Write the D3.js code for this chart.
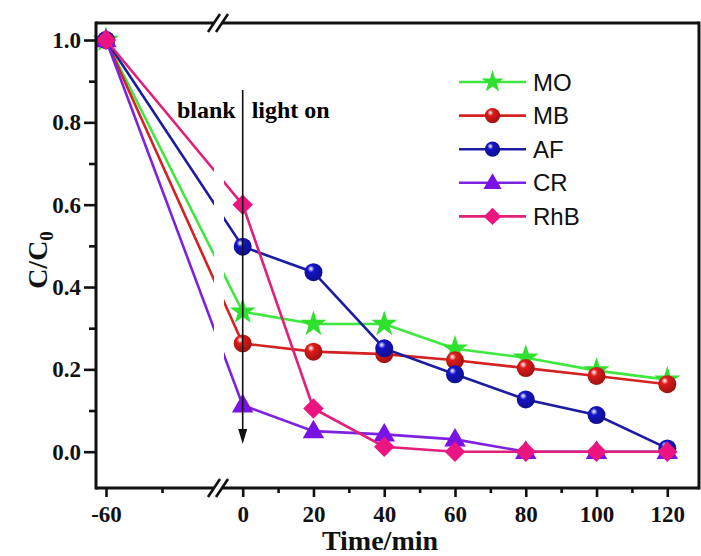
<!DOCTYPE html>
<html>
<head>
<meta charset="utf-8">
<script src="https://cdn.jsdelivr.net/npm/d3@7"></script>
<style>
  body { margin: 0; background: #fff; }
  svg { display: block; }
</style>
</head>
<body>
<div id="chart-area"></div>
<script>
// data
const times = [-60, 0, 20, 40, 60, 80, 100, 120];
const seriesNames = ["MO", "MB", "AF", "CR", "RhB"];
const moValues  = [1.0, 0.34, 0.31, 0.31, 0.25, 0.228, 0.197, 0.175];
const mbValues  = [1.0, 0.263, 0.243, 0.237, 0.222, 0.203, 0.184, 0.164];
const afValues  = [1.0, 0.498, 0.436, 0.251, 0.188, 0.127, 0.089, 0.008];
const crValues  = [1.0, 0.113, 0.05, 0.042, 0.03, 0.0, 0.0, 0.0];
const rhbValues = [1.0, 0.6, 0.105, 0.012, 0.0, 0.0, 0.0, 0.0];
const yTicks = [0.0, 0.2, 0.4, 0.6, 0.8, 1.0];
const yMinor = [0.1, 0.3, 0.5, 0.7, 0.9];
const xTicksRight = [0, 20, 40, 60, 80, 100, 120];
const xMinorRight = [10, 30, 50, 70, 90, 110];
const xTicksLeft = [-60];
const xMinorLeft = [-50];

const margin = { top: 23, right: 2, bottom: 68, left: 96 };
const width = 701 - margin.left - margin.right;
const height = 556 - margin.top - margin.bottom;

const serif = "'Times New Roman', 'Liberation Serif', serif";
const sans = "Arial, 'Liberation Sans', sans-serif";

const styles = {
  MO:  { color: "#2fe02f", line: "#3fe83f", shape: "star" },
  MB:  { color: "#e01a1a", line: "#d42222", shape: "ball" },
  AF:  { color: "#1414c8", line: "#1c1ca0", shape: "ball" },
  CR:  { color: "#7a12e6", line: "#7d22e0", shape: "triangle" },
  RhB: { color: "#ec1480", line: "#e0207a", shape: "diamond" }
};

const valuesByName = { MO: moValues, MB: mbValues, AF: afValues, CR: crValues, RhB: rhbValues };

const svg = d3.select("#chart-area")
  .append("svg")
  .attr("width", width + margin.left + margin.right)
  .attr("height", height + margin.top + margin.bottom);

const defs = svg.append("defs");

const g = svg.append("g")
  .attr("transform", `translate(${margin.left}, ${margin.top})`);

// broken x axis: two scales
const xLeft = d3.scaleLinear().domain([-60, -50]).range([10, 66]);
const xRight = d3.scaleLinear().domain([0, 120]).range([146.7, 571.3]);
const xPos = t => t < -30 ? xLeft(t) : xRight(t);
const breakX = 122;

const y = d3.scaleLinear().domain([0, 1]).range([428.7, 17]);

// clip out a gap at the break
const clip = defs.append("clipPath").attr("id", "gapclip");
clip.append("rect").attr("x", -20).attr("y", -20).attr("width", breakX - 4 + 20).attr("height", height + 40);
clip.append("rect").attr("x", breakX + 6).attr("y", -20).attr("width", width - breakX).attr("height", height + 40);

// gradients for ball markers
["MB", "AF"].forEach(name => {
  const grad = defs.append("radialGradient")
    .attr("id", "grad" + name)
    .attr("cx", "40%").attr("cy", "35%").attr("r", "65%")
    .attr("fx", "35%").attr("fy", "30%");
  grad.append("stop").attr("offset", "0%").attr("stop-color", "#ffffff");
  grad.append("stop").attr("offset", "30%").attr("stop-color", styles[name].color);
  grad.append("stop").attr("offset", "100%").attr("stop-color", d3.color(styles[name].color).darker(1));
});

function drawMarker(sel, name, k) {
  const s = styles[name];
  if (s.shape === "ball") {
    sel.append("circle").attr("r", 9 * k)
      .attr("fill", `url(#grad${name})`);
  } else if (s.shape === "star") {
    sel.append("path").attr("d", d3.symbol(d3.symbolStar, 210 * k * k)())
      .attr("fill", s.color);
  } else if (s.shape === "triangle") {
    sel.append("path").attr("d", d3.symbol(d3.symbolTriangle, 200 * k * k)())
      .attr("transform", "translate(0,1)")
      .attr("fill", s.color);
  } else {
    sel.append("path").attr("d", d3.symbol(d3.symbolSquare, 210 * k * k)())
      .attr("transform", "rotate(45)")
      .attr("fill", s.color);
  }
}

// series
const line = d3.line()
  .x(d => xPos(d.t))
  .y(d => y(d.v));

seriesNames.forEach(name => {
  const data = times.map((t, i) => ({ t: t, v: valuesByName[name][i] }));
  g.append("path")
    .datum(data)
    .attr("clip-path", "url(#gapclip)")
    .attr("fill", "none")
    .attr("stroke", styles[name].line)
    .attr("stroke-width", 2.6)
    .attr("d", line);
  g.selectAll(".m-" + name)
    .data(data)
    .enter()
    .append("g")
    .attr("class", "m-" + name)
    .attr("transform", d => `translate(${xPos(d.t)}, ${y(d.v)})`)
    .each(function() { drawMarker(d3.select(this), name, 1); });
});

// arrow at t = 0
g.append("line")
  .attr("x1", xRight(0)).attr("x2", xRight(0))
  .attr("y1", 67).attr("y2", 410)
  .attr("stroke", "#111")
  .attr("stroke-width", 1.6);
g.append("path")
  .attr("d", `M${xRight(0) - 4.5},${406} L${xRight(0) + 4.5},${406} L${xRight(0)},${421} Z`)
  .attr("fill", "#111");

g.append("text")
  .attr("x", xRight(0) - 7)
  .attr("y", 95)
  .attr("text-anchor", "end")
  .attr("font-family", serif)
  .attr("font-weight", "bold")
  .attr("font-size", "24px")
  .text("blank");
g.append("text")
  .attr("x", xRight(0) + 9)
  .attr("y", 95)
  .attr("font-family", serif)
  .attr("font-weight", "bold")
  .attr("font-size", "24px")
  .text("light on");

// y axis ticks
const yAxis = d3.axisLeft(y)
  .tickValues(yTicks)
  .tickSize(12)
  .tickPadding(3)
  .tickFormat(d3.format(".1f"));
const yg = g.append("g").call(yAxis);
yg.select(".domain").remove();
yg.selectAll("line").attr("stroke-width", 2.6).attr("stroke", "#111");
yg.selectAll("text")
  .attr("font-family", serif)
  .attr("font-weight", "bold")
  .attr("font-size", "23px")
  .attr("fill", "#111");

const yMinorG = g.append("g").call(d3.axisLeft(y).tickValues(yMinor).tickSize(7).tickFormat(""));
yMinorG.select(".domain").remove();
yMinorG.selectAll("line").attr("stroke-width", 2.6).attr("stroke", "#111");

// x axis ticks, both segments
function xAxisPart(scale, major, minor) {
  const a = g.append("g")
    .attr("transform", `translate(0, ${height})`)
    .call(d3.axisBottom(scale).tickValues(major).tickSize(9).tickPadding(0).tickFormat(d => String(d)));
  a.select(".domain").remove();
  a.selectAll("line").attr("stroke-width", 2.6).attr("stroke", "#111");
  a.selectAll("text")
    .attr("y", 34).attr("dy", 0)
    .attr("font-family", serif)
    .attr("font-weight", "bold")
    .attr("font-size", "23px")
    .attr("fill", "#111");
  const b = g.append("g")
    .attr("transform", `translate(0, ${height})`)
    .call(d3.axisBottom(scale).tickValues(minor).tickSize(5).tickFormat(""));
  b.select(".domain").remove();
  b.selectAll("line").attr("stroke-width", 2.6).attr("stroke", "#111");
}
xAxisPart(xLeft, xTicksLeft, xMinorLeft);
xAxisPart(xRight, xTicksRight, xMinorRight);

// frame with break marks
const frame = g.append("g")
  .attr("fill", "none")
  .attr("stroke", "#111")
  .attr("stroke-width", 3);
frame.append("line").attr("x1", 0).attr("x2", 0).attr("y1", -1.5).attr("y2", height + 1.5);
frame.append("line").attr("x1", width).attr("x2", width).attr("y1", -1.5).attr("y2", height + 1.5);
[0, height].forEach(yy => {
  frame.append("line").attr("x1", 0).attr("x2", breakX - 4).attr("y1", yy).attr("y2", yy);
  frame.append("line").attr("x1", breakX + 4).attr("x2", width).attr("y1", yy).attr("y2", yy);
  [-4, 4].forEach(dx => {
    frame.append("line")
      .attr("x1", breakX + dx - 6).attr("y1", yy + 9)
      .attr("x2", breakX + dx + 6).attr("y2", yy - 9)
      .attr("stroke-width", 2.6);
  });
});

// legend
const legend = g.append("g").attr("transform", "translate(363, 59)");
seriesNames.forEach((name, i) => {
  const row = legend.append("g").attr("transform", `translate(0, ${i * 33.6})`);
  row.append("line")
    .attr("x1", 0).attr("x2", 67)
    .attr("stroke", styles[name].line)
    .attr("stroke-width", 2.6);
  drawMarker(row.append("g").attr("transform", "translate(33.5, 0)"), name, 0.85);
  row.append("text")
    .attr("x", 74)
    .attr("y", 8.5)
    .attr("font-family", sans)
    .attr("font-size", "24px")
    .attr("fill", "#111")
    .text(name);
});

// axis titles
g.append("text")
  .attr("x", 284)
  .attr("y", height + 62)
  .attr("text-anchor", "middle")
  .attr("font-family", serif)
  .attr("font-weight", "bold")
  .attr("font-size", "28px")
  .attr("fill", "#111")
  .text("Time/min");

const yLabel = svg.append("text")
  .attr("transform", "rotate(-90)")
  .attr("x", -260)
  .attr("y", 47)
  .attr("text-anchor", "middle")
  .attr("font-family", serif)
  .attr("font-weight", "bold")
  .attr("font-size", "28px")
  .attr("fill", "#111");
yLabel.append("tspan").text("C/C");
yLabel.append("tspan").attr("font-size", "19px").attr("dy", 6).text("0");
</script>
</body>
</html>
